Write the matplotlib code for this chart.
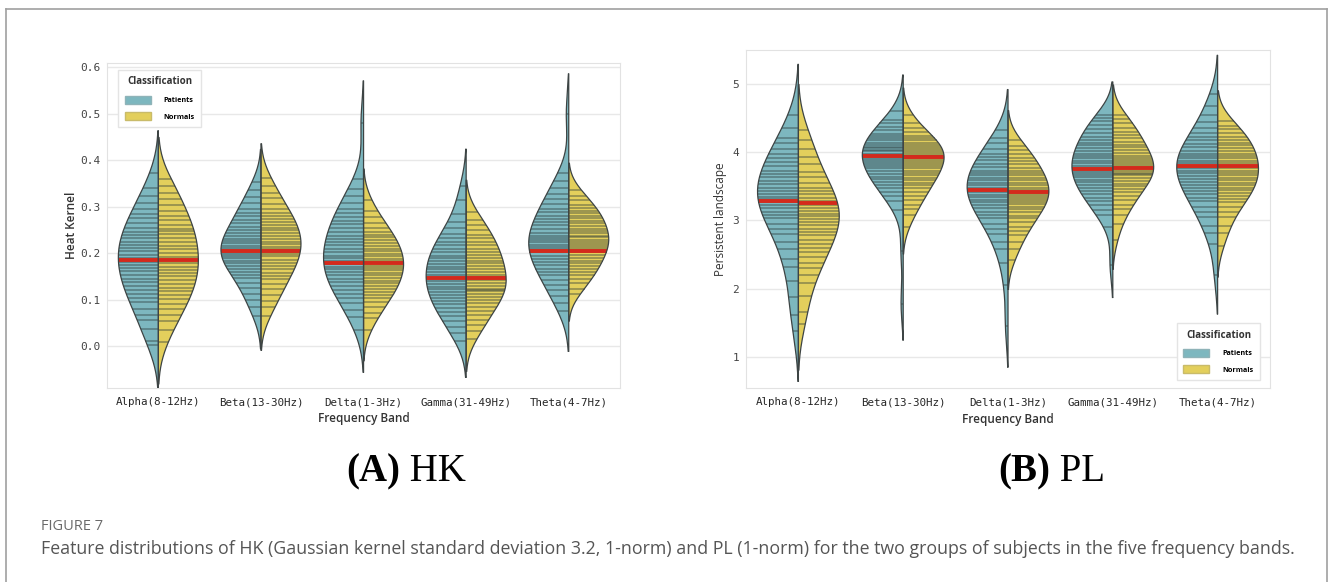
import numpy as np
import matplotlib.pyplot as plt
from matplotlib.patches import Patch
from matplotlib.lines import Line2D

bands = ['Alpha(8-12Hz)', 'Beta(13-30Hz)', 'Delta(1-3Hz)', 'Gamma(31-49Hz)', 'Theta(4-7Hz)']
groups = ['Patients', 'Normals']

# heat kernel feature, one list per band
hk_patients = [
    [0.002, 0.012, 0.037, 0.056, 0.068, 0.081, 0.094, 0.104, 0.112, 0.121, 0.129, 0.137,
     0.145, 0.154, 0.161, 0.168, 0.175, 0.182, 0.189, 0.196, 0.204, 0.211, 0.218, 0.225,
     0.232, 0.239, 0.246, 0.255, 0.265, 0.275, 0.285, 0.295, 0.308, 0.323, 0.340, 0.372],
    [0.064, 0.084, 0.100, 0.113, 0.125, 0.136, 0.146, 0.153, 0.160, 0.167, 0.173, 0.179,
     0.184, 0.189, 0.194, 0.198, 0.203, 0.207, 0.212, 0.216, 0.221, 0.226, 0.231, 0.237,
     0.243, 0.250, 0.257, 0.264, 0.271, 0.279, 0.287, 0.296, 0.307, 0.320, 0.335, 0.354],
    [0.035, 0.062, 0.078, 0.093, 0.104, 0.112, 0.121, 0.129, 0.137, 0.145, 0.153, 0.159,
     0.165, 0.171, 0.177, 0.183, 0.189, 0.195, 0.203, 0.210, 0.217, 0.224, 0.231, 0.238,
     0.245, 0.254, 0.262, 0.270, 0.278, 0.286, 0.294, 0.307, 0.322, 0.338, 0.360, 0.480],
    [0.012, 0.028, 0.042, 0.055, 0.064, 0.073, 0.082, 0.090, 0.097, 0.104, 0.110, 0.116,
     0.122, 0.128, 0.134, 0.140, 0.146, 0.153, 0.159, 0.165, 0.171, 0.177, 0.183, 0.189,
     0.195, 0.203, 0.210, 0.217, 0.224, 0.232, 0.241, 0.254, 0.268, 0.284, 0.315, 0.345],
    [0.075, 0.092, 0.108, 0.120, 0.132, 0.143, 0.153, 0.160, 0.167, 0.174, 0.181, 0.188,
     0.195, 0.203, 0.208, 0.213, 0.218, 0.223, 0.228, 0.233, 0.238, 0.244, 0.253, 0.260,
     0.267, 0.274, 0.281, 0.288, 0.295, 0.305, 0.316, 0.328, 0.340, 0.355, 0.372, 0.500],
]
hk_normals = [
    [0.008, 0.035, 0.055, 0.067, 0.079, 0.091, 0.102, 0.110, 0.118, 0.126, 0.134, 0.142,
     0.150, 0.157, 0.164, 0.171, 0.178, 0.185, 0.192, 0.200, 0.208, 0.216, 0.224, 0.232,
     0.241, 0.247, 0.251, 0.261, 0.271, 0.281, 0.291, 0.303, 0.316, 0.330, 0.345, 0.360],
    [0.065, 0.084, 0.098, 0.111, 0.123, 0.134, 0.144, 0.151, 0.158, 0.165, 0.172, 0.179,
     0.186, 0.193, 0.198, 0.203, 0.209, 0.214, 0.219, 0.224, 0.230, 0.236, 0.243, 0.249,
     0.255, 0.261, 0.267, 0.273, 0.279, 0.286, 0.295, 0.306, 0.318, 0.330, 0.345, 0.362],
    [0.035, 0.060, 0.072, 0.084, 0.095, 0.104, 0.110, 0.116, 0.122, 0.129, 0.135, 0.141,
     0.147, 0.153, 0.158, 0.163, 0.168, 0.173, 0.178, 0.183, 0.188, 0.193, 0.198, 0.204,
     0.210, 0.216, 0.222, 0.228, 0.234, 0.240, 0.246, 0.255, 0.266, 0.278, 0.290, 0.315],
    [0.015, 0.032, 0.046, 0.057, 0.066, 0.075, 0.084, 0.092, 0.100, 0.106, 0.112, 0.118,
     0.121, 0.124, 0.130, 0.136, 0.142, 0.148, 0.154, 0.160, 0.166, 0.172, 0.178, 0.184,
     0.190, 0.196, 0.203, 0.210, 0.217, 0.224, 0.232, 0.240, 0.250, 0.260, 0.272, 0.288],
    [0.112, 0.124, 0.135, 0.145, 0.154, 0.160, 0.166, 0.172, 0.178, 0.184, 0.190, 0.196,
     0.202, 0.207, 0.211, 0.216, 0.220, 0.225, 0.229, 0.234, 0.238, 0.243, 0.247, 0.253,
     0.258, 0.264, 0.269, 0.275, 0.280, 0.286, 0.291, 0.297, 0.304, 0.314, 0.324, 0.336],
]

# persistent landscape feature, one list per band
pl_patients = [
    [1.38, 1.62, 1.88, 2.12, 2.32, 2.44, 2.58, 2.68, 2.80, 2.88, 2.95, 3.03,
     3.08, 3.13, 3.18, 3.23, 3.27, 3.31, 3.35, 3.39, 3.43, 3.47, 3.53, 3.58,
     3.63, 3.68, 3.72, 3.79, 3.85, 3.91, 3.97, 4.05, 4.13, 4.21, 4.35, 4.55],
    [1.78, 2.55, 3.15, 3.29, 3.36, 3.42, 3.47, 3.52, 3.56, 3.60, 3.64, 3.68,
     3.72, 3.76, 3.79, 3.82, 3.85, 3.88, 3.91, 3.94, 3.97, 4.01, 4.03, 4.06,
     4.08, 4.11, 4.14, 4.17, 4.20, 4.23, 4.27, 4.32, 4.37, 4.42, 4.47, 4.60],
    [1.45, 2.05, 2.38, 2.58, 2.68, 2.80, 2.88, 2.95, 3.03, 3.08, 3.13, 3.18,
     3.22, 3.27, 3.30, 3.34, 3.37, 3.41, 3.44, 3.48, 3.52, 3.55, 3.59, 3.62,
     3.66, 3.69, 3.73, 3.78, 3.83, 3.88, 3.93, 3.97, 4.05, 4.13, 4.20, 4.32],
    [2.35, 2.90, 3.08, 3.15, 3.22, 3.28, 3.33, 3.38, 3.43, 3.47, 3.52, 3.56,
     3.59, 3.63, 3.66, 3.69, 3.73, 3.77, 3.80, 3.84, 3.87, 3.91, 3.94, 3.97,
     4.02, 4.06, 4.10, 4.14, 4.18, 4.22, 4.28, 4.34, 4.40, 4.46, 4.50, 4.55],
    [2.20, 2.65, 2.82, 2.92, 3.05, 3.13, 3.20, 3.28, 3.33, 3.38, 3.43, 3.47,
     3.52, 3.56, 3.61, 3.65, 3.69, 3.73, 3.77, 3.80, 3.84, 3.87, 3.91, 3.94,
     3.97, 4.02, 4.07, 4.12, 4.17, 4.22, 4.28, 4.36, 4.44, 4.55, 4.68, 4.85],
]
pl_normals = [
    [1.48, 1.66, 1.90, 2.08, 2.20, 2.30, 2.38, 2.46, 2.54, 2.60, 2.66, 2.72,
     2.78, 2.83, 2.88, 2.93, 2.97, 3.02, 3.06, 3.10, 3.14, 3.18, 3.22, 3.28,
     3.33, 3.38, 3.43, 3.47, 3.55, 3.63, 3.71, 3.82, 3.93, 4.05, 4.18, 4.32],
    [2.90, 3.08, 3.16, 3.23, 3.30, 3.36, 3.42, 3.47, 3.52, 3.55, 3.59, 3.62,
     3.66, 3.69, 3.73, 3.77, 3.80, 3.83, 3.86, 3.89, 3.91, 3.94, 3.96, 3.99,
     4.02, 4.05, 4.08, 4.11, 4.14, 4.17, 4.20, 4.23, 4.29, 4.36, 4.43, 4.55],
    [2.42, 2.58, 2.68, 2.79, 2.85, 2.91, 2.97, 3.03, 3.07, 3.12, 3.16, 3.20,
     3.24, 3.27, 3.30, 3.33, 3.36, 3.39, 3.42, 3.45, 3.48, 3.52, 3.55, 3.59,
     3.62, 3.66, 3.69, 3.73, 3.77, 3.82, 3.87, 3.92, 3.97, 4.03, 4.09, 4.18],
    [2.72, 2.95, 3.08, 3.16, 3.23, 3.30, 3.36, 3.41, 3.46, 3.50, 3.54, 3.58,
     3.62, 3.66, 3.68, 3.70, 3.73, 3.76, 3.79, 3.82, 3.85, 3.88, 3.91, 3.95,
     3.99, 4.03, 4.07, 4.11, 4.15, 4.20, 4.25, 4.30, 4.35, 4.42, 4.48, 4.55],
    [2.62, 2.82, 2.92, 3.05, 3.13, 3.20, 3.27, 3.31, 3.36, 3.40, 3.44, 3.48,
     3.52, 3.55, 3.59, 3.62, 3.66, 3.69, 3.73, 3.77, 3.80, 3.84, 3.87, 3.91,
     3.94, 3.97, 4.02, 4.06, 4.10, 4.14, 4.18, 4.22, 4.28, 4.34, 4.38, 4.45],
]

# red centre line of each half violin
hk_centre_patients = [0.185, 0.205, 0.178, 0.147, 0.205]
hk_centre_normals = [0.185, 0.205, 0.178, 0.147, 0.205]
pl_centre_patients = [3.28, 3.95, 3.45, 3.75, 3.80]
pl_centre_normals = [3.26, 3.93, 3.42, 3.77, 3.80]

teal = '#7db7bf'
yellow = '#e3cf5c'
edge = '#3d4444'
half_w = 0.39


def kde(vals, cut=2, gridsize=150):
    v = np.asarray(vals, float)
    bw = v.std(ddof=1) * len(v) ** (-1 / 5)
    grid = np.linspace(v.min() - cut * bw, v.max() + cut * bw, gridsize)
    dens = np.exp(-0.5 * ((grid[:, None] - v[None, :]) / bw) ** 2).sum(axis=1)
    return grid, dens / dens.max()


def half_violin(ax, x0, vals, centre, side, color):
    y, d = kde(vals)
    w = half_w * d
    xs = np.r_[x0 + side * w, x0, x0]
    ys = np.r_[y, y[-1], y[0]]
    ax.fill(xs, ys, facecolor=color, edgecolor='none', zorder=2)
    # one stick per observation
    sw = half_w * np.interp(vals, y, d)
    ax.hlines(vals, x0, x0 + side * sw, color='#2c3a3a', lw=1.3, alpha=0.42, zorder=3)
    cw = half_w * np.interp(centre, y, d)
    ax.hlines(centre, x0, x0 + side * cw, color='#d42a1c', lw=2.8, zorder=4)
    ax.plot(xs, ys, color=edge, lw=0.9, zorder=5)


def panel(ax, pat, nor, c_pat, c_nor, ylim, yticks, ylabel, legend_loc, legend_anchor):
    for i in range(len(bands)):
        half_violin(ax, i, pat[i], c_pat[i], -1, teal)
        half_violin(ax, i, nor[i], c_nor[i], 1, yellow)
    ax.set_xlim(-0.5, len(bands) - 0.5)
    ax.set_ylim(*ylim)
    ax.set_yticks(yticks)
    ax.set_xticks(range(len(bands)))
    ax.set_xticklabels(bands, family='DejaVu Sans Mono', fontsize=7.8, color='#262626')
    ax.tick_params(axis='x', length=0, pad=6.5)
    ax.tick_params(axis='y', length=0, pad=5, labelsize=8, labelcolor='#444444')
    for t in ax.get_yticklabels():
        t.set_family('DejaVu Sans Mono')
    ax.grid(axis='y', color='#e8e8e8', lw=1, zorder=0)
    ax.set_axisbelow(True)
    for s in ax.spines.values():
        s.set_color('#e2e2e2')
    ax.set_xlabel('Frequency Band', family='Open Sans', fontweight='semibold',
                  fontsize=8.5, color='#333333')
    ax.xaxis.set_label_coords(0.5, -0.075)
    ax.set_ylabel(ylabel, family='Open Sans', fontsize=8.5, color='#333333')
    handles = [Patch(facecolor=teal, edgecolor='#8fb3b8', label=groups[0]),
               Patch(facecolor=yellow, edgecolor='#c9bb6a', label=groups[1])]
    leg = ax.legend(handles=handles, title='Classification', loc=legend_loc,
                    bbox_to_anchor=legend_anchor, prop={'family': 'Open Sans', 'size': 5.2,
                                                        'weight': 'bold'},
                    title_fontproperties={'family': 'Open Sans', 'size': 7, 'weight': 'bold'},
                    handlelength=3.6, handleheight=1.3, labelspacing=1.15, handletextpad=1.8,
                    borderpad=0.9, fancybox=False, edgecolor='#e4e4e4', framealpha=1)
    leg.get_title().set_color('#333333')
    return ax


fig = plt.figure(figsize=(13.3, 5.82), dpi=100)

ax1 = fig.add_axes([0.0805, 0.3333, 0.3857, 0.5584])
panel(ax1, hk_patients, hk_normals, hk_centre_patients, hk_centre_normals,
      (-0.090, 0.609), np.arange(0, 0.61, 0.1), 'Heat Kernel', 'upper left', (0.015, 0.99))
ax1.set_yticklabels(['0.0', '0.1', '0.2', '0.3', '0.4', '0.5', '0.6'])
ax1.yaxis.label.set_fontweight('semibold')
ax1.yaxis.set_label_coords(-0.0565, 0.5)

ax2 = fig.add_axes([0.5609, 0.3333, 0.394, 0.5808])
panel(ax2, pl_patients, pl_normals, pl_centre_patients, pl_centre_normals,
      (0.546, 5.495), [1, 2, 3, 4, 5], 'Persistent landscape', 'lower right', (0.988, 0.012))
ax2.yaxis.set_label_coords(-0.036, 0.5)

# panel captions: bold letter, regular name
for xs, letter, name in [(400, '(A)', ' HK'), (1050, '(B)', ' PL')]:
    fig.text(xs / 1330, 1 - 481 / 582, letter, ha='right', va='baseline',
             family='Liberation Serif', fontweight='bold', fontsize=28)
    fig.text(xs / 1330, 1 - 481 / 582, name, ha='left', va='baseline',
             family='Liberation Serif', fontsize=28)

fig.text(41 / 1330, 1 - 526 / 582, 'FIGURE 7', ha='left', va='center',
         family='Open Sans', fontsize=10.5, color='#6a6a6a')
fig.text(41 / 1330, 1 - 549 / 582,
         'Feature distributions of HK (Gaussian kernel standard deviation 3.2, 1-norm) and PL '
         '(1-norm) for the two groups of subjects in the five frequency bands.',
         ha='left', va='center', family='Open Sans', fontsize=12.8, color='#555555')

# outer frame, open at the bottom
fx0, fx1, fy = 6 / 1330, 1327 / 1330, 1 - 9 / 582
for xd, yd in [([fx0, fx0], [0, fy]), ([fx0, fx1], [fy, fy]), ([fx1, fx1], [fy, 0])]:
    fig.add_artist(Line2D(xd, yd, color='#a0a0a0', lw=1.2, transform=fig.transFigure))

fig.savefig('out.png', dpi=100, facecolor='white')
